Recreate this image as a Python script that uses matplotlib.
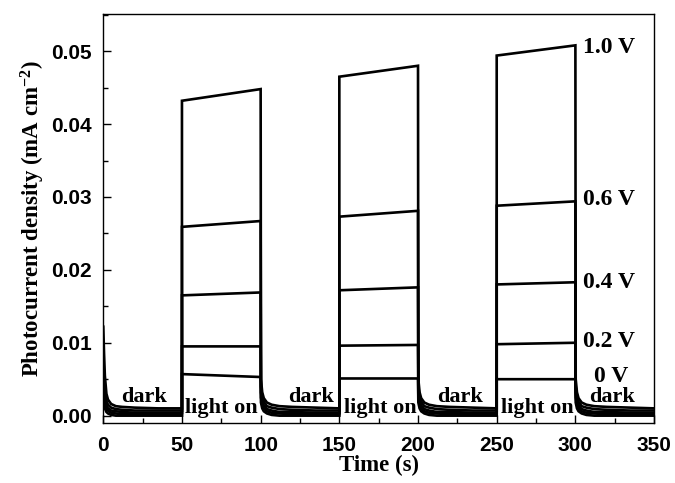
import matplotlib
matplotlib.use("Agg")
import matplotlib.pyplot as plt
from matplotlib.ticker import MultipleLocator

plt.rcParams["font.family"] = ["Liberation Sans"]
plt.rcParams["font.weight"] = "bold"
plt.rcParams["mathtext.fontset"] = "custom"
plt.rcParams["mathtext.rm"] = "Liberation Serif:bold"
plt.rcParams["mathtext.it"] = "Liberation Serif:bold"
plt.rcParams["mathtext.bf"] = "Liberation Serif:bold"

# ---------------- data ----------------
voltages = ["1.0 V", "0.6 V", "0.4 V", "0.2 V", "0 V"]
light_on_start = [50, 150, 250]
light_on_end = [100, 200, 300]

# photocurrent at start / end of each light-on period (mA cm^-2)
on_start = {
    "1.0 V": [0.0432, 0.0465, 0.0494],
    "0.6 V": [0.0259, 0.0273, 0.0288],
    "0.4 V": [0.0165, 0.0172, 0.0180],
    "0.2 V": [0.0095, 0.0096, 0.0098],
    "0 V":   [0.0057, 0.0051, 0.0050],
}
on_end = {
    "1.0 V": [0.0448, 0.0480, 0.0508],
    "0.6 V": [0.0267, 0.0281, 0.0294],
    "0.4 V": [0.0169, 0.0176, 0.0183],
    "0.2 V": [0.0095, 0.0097, 0.0100],
    "0 V":   [0.0053, 0.0051, 0.0050],
}

# first dark period (0-50 s): time and current samples
first_dark_t = [0, 0.5, 1, 2, 3, 5, 8, 12, 20, 35, 50]
first_dark = {
    "1.0 V": [0.0122, 0.0085, 0.0055, 0.0030, 0.0022, 0.0016, 0.0013, 0.0012, 0.0011, 0.0010, 0.0010],
    "0.6 V": [0.0060, 0.0040, 0.0030, 0.0020, 0.0015, 0.0011, 0.0009, 0.0008, 0.0007, 0.0007, 0.0007],
    "0.4 V": [0.0045, 0.0030, 0.0022, 0.0014, 0.0010, 0.0007, 0.0006, 0.0005, 0.0004, 0.0004, 0.0004],
    "0.2 V": [0.0035, 0.0024, 0.0016, 0.0010, 0.0007, 0.0004, 0.0003, 0.0002, 0.0002, 0.0002, 0.0002],
    "0 V":   [0.0025, 0.0015, 0.0010, 0.0005, 0.0003, 0.0001, 0.0000, 0.0000, 0.0000, 0.0000, 0.0000],
}

# decay after light off: seconds after switching off, current samples
decay_dt = [0.2, 1, 2, 4, 7, 12, 20, 35, 50]
decay = {
    "1.0 V": [0.0050, 0.0032, 0.0024, 0.0018, 0.0015, 0.0013, 0.0012, 0.0011, 0.0010],
    "0.6 V": [0.0040, 0.0026, 0.0019, 0.0013, 0.0011, 0.0009, 0.0008, 0.0007, 0.0007],
    "0.4 V": [0.0032, 0.0020, 0.0014, 0.0009, 0.0007, 0.0005, 0.0005, 0.0004, 0.0004],
    "0.2 V": [0.0025, 0.0015, 0.0010, 0.0006, 0.0004, 0.0003, 0.0002, 0.0002, 0.0002],
    "0 V":   [0.0018, 0.0010, 0.0006, 0.0003, 0.0001, 0.0000, 0.0000, 0.0000, 0.0000],
}

# text labels
voltage_label_pos = {
    "1.0 V": (305, 0.0505), "0.6 V": (305, 0.0296), "0.4 V": (305, 0.0182),
    "0.2 V": (305, 0.0102), "0 V": (312, 0.0054),
}
dark_x = [26, 132, 227, 323]
light_x = [75, 176, 276]

# ---------------- figure ----------------
fig = plt.figure(figsize=(6.75, 4.83), dpi=100)
ax = fig.add_axes([0.153, 0.1236, 0.816, 0.8474])

for v in voltages:
    t = list(first_dark_t)
    y = list(first_dark[v])
    for k in range(3):
        t += [light_on_start[k], light_on_end[k]]
        y += [on_start[v][k], on_end[v][k]]
        t += [light_on_end[k] + d for d in decay_dt]
        y += list(decay[v])
    ax.plot(t, y, color="black", lw=1.9, solid_joinstyle="miter")

serif_bold = dict(family="Liberation Serif", weight="bold")
for v in voltages:
    x, yv = voltage_label_pos[v]
    ax.text(x, yv, v, fontsize=17, ha="left", va="center", **serif_bold)
for x in dark_x:
    ax.text(x, 0.0025, "dark", fontsize=16, ha="center", va="center", **serif_bold)
for x in light_x:
    ax.text(x, 0.0010, "light on", fontsize=16, ha="center", va="center", **serif_bold)

ax.set_xlim(0, 350)
ax.set_ylim(-0.00105, 0.0551)
ax.xaxis.set_major_locator(MultipleLocator(50))
ax.xaxis.set_minor_locator(MultipleLocator(25))
ax.yaxis.set_major_locator(MultipleLocator(0.01))
ax.yaxis.set_minor_locator(MultipleLocator(0.005))
ax.yaxis.set_major_formatter(plt.FuncFormatter(lambda v, p: f"{v:.2f}"))
ax.tick_params(which="both", direction="in", top=False, right=False, width=1,
               labelsize=15)
ax.tick_params(which="major", length=6)
ax.tick_params(which="minor", length=3.5)
ax.tick_params(axis="x", pad=9)
ax.tick_params(axis="y", pad=8)
for s in ax.spines.values():
    s.set_linewidth(1.0)

ax.set_xlabel("Time (s)", fontsize=16.5, labelpad=0, **serif_bold)
ax.set_ylabel("Photocurrent density (mA cm$^{\\mathregular{-2}}$)", fontsize=16.5,
              labelpad=3, **serif_bold)

fig.savefig("out.png", dpi=100)
